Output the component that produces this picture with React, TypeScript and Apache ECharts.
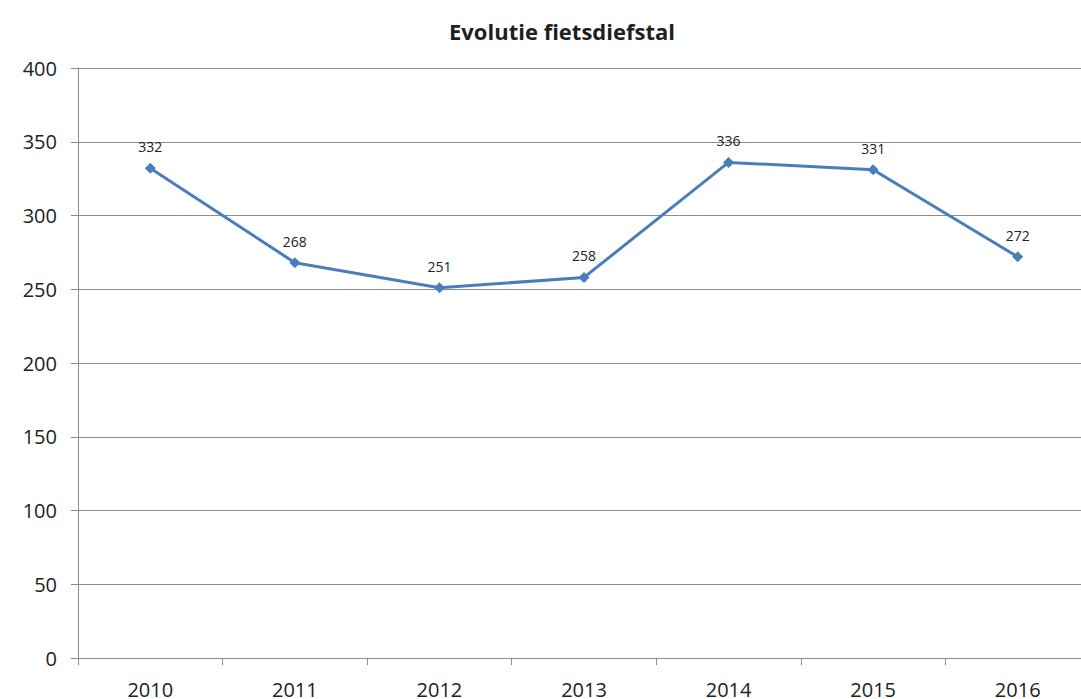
import React, { useEffect, useRef } from "react";
import * as echarts from "echarts";

const years = ["2010", "2011", "2012", "2013", "2014", "2015", "2016"];
const thefts = [332, 268, 251, 258, 336, 331, 272];
const titleText = "Evolutie fietsdiefstal";

export default function App() {
  const ref = useRef<HTMLDivElement>(null);
  useEffect(() => {
    document.body.style.margin = "0";
    const chart = echarts.init(ref.current!, null, { renderer: "svg" });
    chart.setOption({
      animation: false,
      backgroundColor: "#ffffff",
      title: {
        text: titleText,
        left: 557,
        top: 15,
        textAlign: "center",
        textStyle: { fontFamily: "Open Sans", fontWeight: "bold", fontSize: 22, color: "#1e1e1e" },
      },
      grid: { left: 78, top: 68, right: 0, height: 591, containLabel: false },
      xAxis: {
        type: "category",
        data: years,
        boundaryGap: true,
        axisLine: { lineStyle: { color: "#8c8c8c", width: 1 } },
        axisTick: { show: true, length: 7, lineStyle: { color: "#8c8c8c" } },
        axisLabel: { fontFamily: "Open Sans", fontSize: 20, color: "#222222", margin: 21 },
        splitLine: { show: false },
      },
      yAxis: {
        type: "value",
        min: 0,
        max: 400,
        interval: 50,
        axisLine: { show: true, lineStyle: { color: "#8c8c8c", width: 1 } },
        axisTick: { show: true, length: 7, lineStyle: { color: "#8c8c8c" } },
        axisLabel: { fontFamily: "Open Sans", fontSize: 20, color: "#222222", margin: 21 },
        splitLine: { show: true, lineStyle: { color: "#8c8c8c", width: 1 } },
      },
      series: [
        {
          type: "line",
          data: thefts,
          symbol: "diamond",
          symbolSize: 11,
          lineStyle: { color: "#4a7ebb", width: 3 },
          itemStyle: { color: "#4a7ebb" },
          label: {
            show: true,
            position: "top",
            distance: 9,
            fontFamily: "Open Sans",
            fontSize: 14,
            color: "#222222",
          },
        },
      ],
    });
    return () => chart.dispose();
  }, []);
  return (
    <div
      style={{ position: "absolute", left: 0, top: 0, width: 1081, height: 699, overflow: "hidden" }}
    >
      <div ref={ref} style={{ width: 1090, height: 699 }} />
    </div>
  );
}
